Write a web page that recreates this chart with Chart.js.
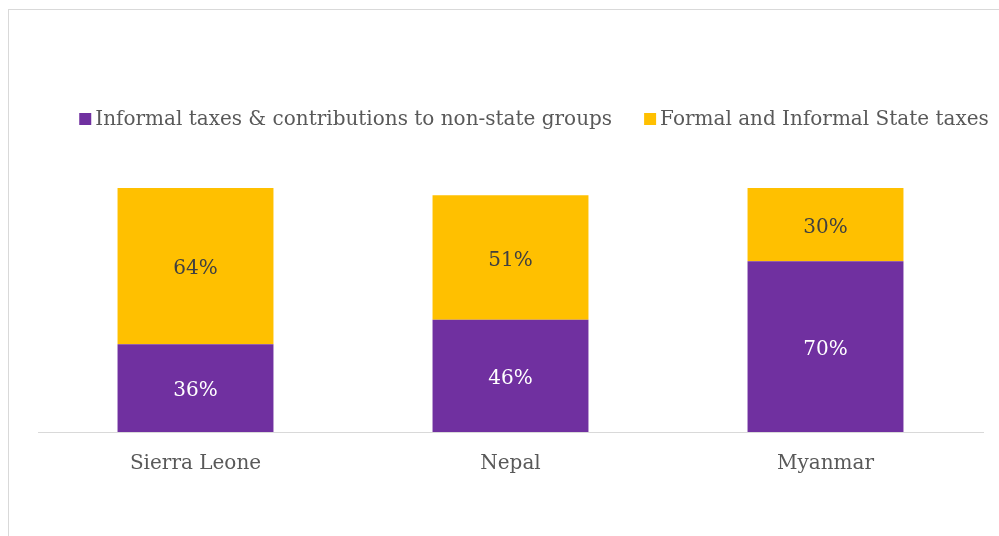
<!DOCTYPE html>
<html>
<head>
<meta charset="utf-8">
<script src="https://cdn.jsdelivr.net/npm/chart.js@4"></script>
<style>
  html, body { margin: 0; padding: 0; background: #fff; }
  #wrap { width: 999px; height: 536px; position: relative; }
</style>
</head>
<body>
<div id="wrap"><canvas id="taxChart"></canvas></div>
<script>
// Share of payments by type, per country (%)
const countries = ['Sierra Leone', 'Nepal', 'Myanmar'];
const nonStateShare = [36, 46, 70];
const stateShare = [64, 51, 30];

const seriesNames = ['Informal taxes & contributions to non-state groups', 'Formal and Informal State taxes'];
const seriesColors = ['#7030A0', '#FFC000'];
const labelColors = ['#FFFFFF', '#404040'];

const FONT = "'DejaVu Serif', serif";

// Light grey frame round the chart
const framePlugin = {
  id: 'frame',
  beforeDraw(chart) {
    const ctx = chart.ctx;
    ctx.save();
    ctx.strokeStyle = '#d9d9d9';
    ctx.lineWidth = 1;
    ctx.strokeRect(8.5, 9.5, 1200, 800);
    ctx.restore();
  }
};

// Legend row drawn by hand so it sits above the bars
const legendRow = {
  id: 'legendRow',
  afterDraw(chart) {
    const ctx = chart.ctx;
    ctx.save();
    ctx.font = '20px ' + FONT;
    ctx.textBaseline = 'middle';
    const box = 12, gap = 4, spacing = 32;
    const widths = chart.data.datasets.map(ds => ctx.measureText(ds.label).width);
    const total = widths.reduce((a, w) => a + box + gap + w, 0) + spacing * (widths.length - 1);
    let x = 534 - total / 2;
    const y = 119;
    chart.data.datasets.forEach((ds, i) => {
      ctx.fillStyle = ds.backgroundColor;
      ctx.fillRect(x, y - box / 2, box, box);
      ctx.fillStyle = '#595959';
      ctx.fillText(ds.label, x + box + gap, y + 1);
      x += box + gap + widths[i] + spacing;
    });
    ctx.restore();
  }
};

// Percent labels in the middle of each segment
const segmentLabels = {
  id: 'segmentLabels',
  afterDatasetsDraw(chart) {
    const ctx = chart.ctx;
    ctx.save();
    ctx.font = '20px ' + FONT;
    ctx.textAlign = 'center';
    ctx.textBaseline = 'middle';
    chart.data.datasets.forEach((ds, i) => {
      chart.getDatasetMeta(i).data.forEach((bar, j) => {
        ctx.fillStyle = labelColors[i];
        ctx.fillText(ds.data[j] + '%', bar.x, (bar.y + bar.base) / 2 + 3);
      });
    });
    ctx.restore();
  }
};

new Chart(document.getElementById('taxChart'), {
  type: 'bar',
  data: {
    labels: countries,
    datasets: [
      { label: seriesNames[0], data: nonStateShare, backgroundColor: seriesColors[0] },
      { label: seriesNames[1], data: stateShare, backgroundColor: seriesColors[1] }
    ]
  },
  options: {
    responsive: true,
    maintainAspectRatio: false,
    animation: false,
    layout: { padding: { left: 38, right: 16, top: 188, bottom: 0 } },
    datasets: { bar: { categoryPercentage: 0.495, barPercentage: 1, borderWidth: 0 } },
    scales: {
      x: {
        stacked: true,
        grid: { display: false, drawTicks: false },
        border: { display: true, color: '#d9d9d9', width: 1 },
        ticks: { color: '#595959', font: { family: FONT, size: 20 }, padding: 20 },
        afterFit(scale) { scale.height = 104; }
      },
      y: {
        stacked: true,
        display: false,
        min: 0,
        max: 100
      }
    },
    plugins: {
      legend: { display: false },
      tooltip: { enabled: false }
    }
  },
  plugins: [framePlugin, legendRow, segmentLabels]
});
</script>
</body>
</html>
